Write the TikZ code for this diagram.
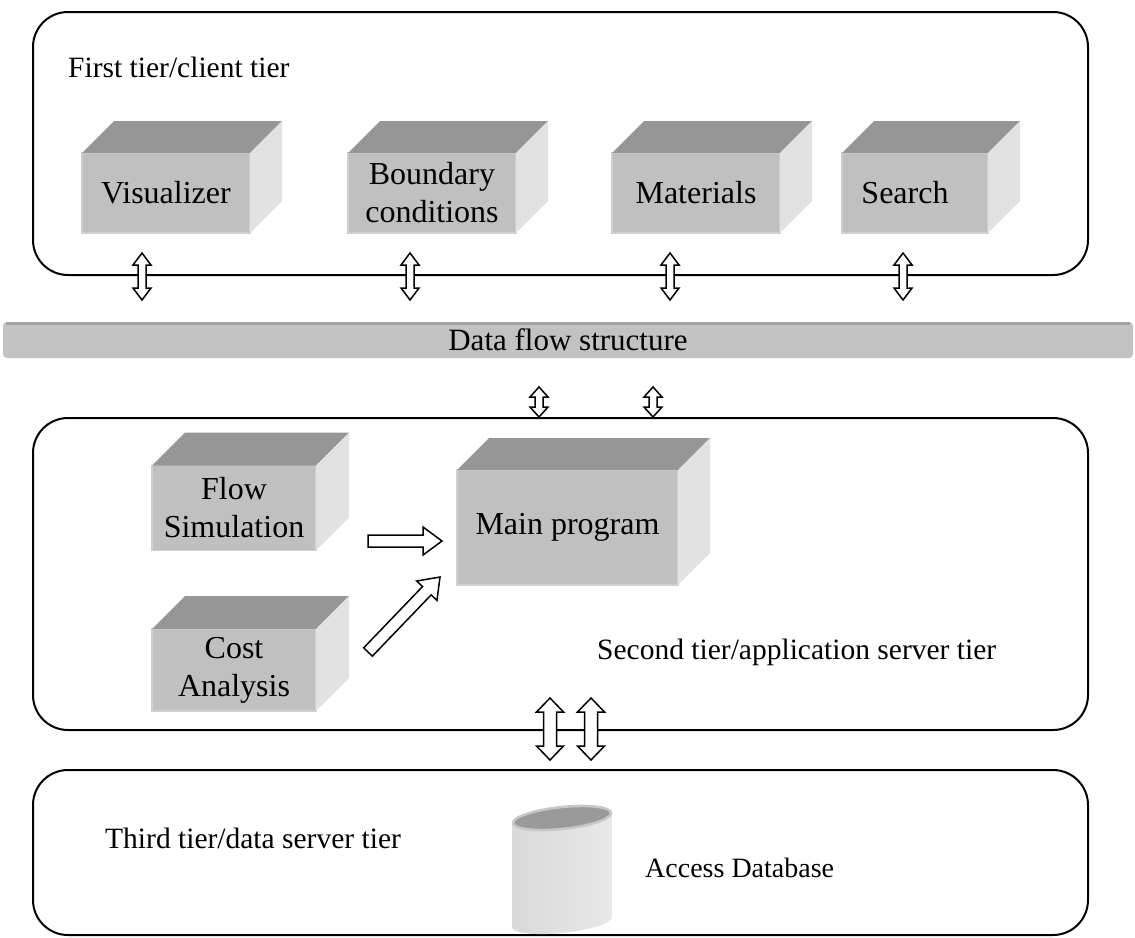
\documentclass[tikz,border=0pt]{standalone}
\usepackage{fontspec}
\setmainfont{Liberation Serif}
\usetikzlibrary{calc}

\definecolor{cubeFront}{HTML}{C0C0C0}
\definecolor{cubeTop}{HTML}{969696}
\definecolor{cubeSide}{HTML}{E2E2E2}
\definecolor{cubeEdge}{HTML}{CFCFCF}
\definecolor{barFill}{HTML}{C2C2C2}
\definecolor{barEdge}{HTML}{A2A2A2}
\definecolor{dbTop}{HTML}{9A9A9A}
\definecolor{dbRim}{HTML}{C8C8C8}

% top and right faces of a box whose front face is node #1, depth #2
\newcommand\boxfaces[2]{%
  \fill[cubeTop] (#1.north west) -- ++(#2,-#2) -- ($(#1.north east)+(#2,-#2)$) -- (#1.north east) -- cycle;
  \fill[cubeSide] (#1.north east) -- ++(#2,-#2) -- ($(#1.south east)+(#2,-#2)$) -- (#1.south east) -- cycle;}

% outlined double-headed block arrow from #1 to #2
% #3 shaft half width, #4 head half width, #5 head length
\newcommand\dblarrow[5]{%
  \coordinate (hba) at ($(#1)!#5!(#2)$);
  \coordinate (hbb) at ($(#2)!#5!(#1)$);
  \draw[blockarrow] (#1) -- ($(hba)!#4!90:(#2)$) -- ($(hba)!#3!90:(#2)$)
    -- ($(hbb)!#3!90:(#2)$) -- ($(hbb)!#4!90:(#2)$) -- (#2)
    -- ($(hbb)!#4!-90:(#2)$) -- ($(hbb)!#3!-90:(#2)$)
    -- ($(hba)!#3!-90:(#2)$) -- ($(hba)!#4!-90:(#2)$) -- cycle;}

% outlined single-headed block arrow from tail #1 to tip #2
\newcommand\sglarrow[5]{%
  \coordinate (hbb) at ($(#2)!#5!(#1)$);
  \draw[blockarrow] ($(#1)!#3!90:(#2)$) -- ($(hbb)!#3!90:(#2)$) -- ($(hbb)!#4!90:(#2)$)
    -- (#2) -- ($(hbb)!#4!-90:(#2)$) -- ($(hbb)!#3!-90:(#2)$) -- ($(#1)!#3!-90:(#2)$) -- cycle;}

\begin{document}
\begin{tikzpicture}[x=1pt,y=-1pt,
  tierbox/.style={draw=black, line width=2pt, rounded corners=35pt, inner sep=0pt, outer sep=0pt},
  cubefront/.style={fill=cubeFront, draw=cubeEdge, line width=1.2pt, inner sep=0pt, outer sep=0pt,
    align=center, font=\fontsize{32}{38}\selectfont},
  tierlabel/.style={anchor=base west, inner sep=0pt, font=\fontsize{29.5}{34}\selectfont},
  blockarrow/.style={draw=black, fill=white, line width=1.5pt, line join=miter},
  dataflow/.style={fill=barFill, rounded corners=4pt, inner sep=0pt, outer sep=0pt,
    minimum width=1130pt, minimum height=36pt, font=\fontsize{31}{34}\selectfont}]
\useasboundingbox (0,0) rectangle (1135,937);

% ---------- tier frames ----------
\node[tierbox, minimum width=1055pt, minimum height=263pt] (tier1) at (560.5,143.5) {};
\node[tierbox, minimum width=1055pt, minimum height=312pt] (tier2) at (560.5,574) {};
\node[tierbox, minimum width=1055pt, minimum height=165pt] (tier3) at (560.5,852.5) {};

\node[tierlabel] (lab1) at (68,77) {First tier/client tier};
\node[tierlabel] (lab2) at (597,659) {Second tier/application server tier};
\node[tierlabel] (lab3) at (105,848) {Third tier/data server tier};

% ---------- client tier modules ----------
\node[cubefront, minimum width=168pt, minimum height=80pt] (vis) at (166,193) {Visualizer};
\boxfaces{vis}{32}
\node[cubefront, minimum width=168pt, minimum height=80pt] (bnd) at (432,193) {Boundary\\conditions};
\boxfaces{bnd}{32}
\node[cubefront, minimum width=168pt, minimum height=80pt] (mat) at (696,193) {Materials};
\boxfaces{mat}{32}
\node[cubefront, minimum width=146pt, minimum height=80pt] (sea) at (915,193) {Search\hspace*{20pt}};
\boxfaces{sea}{32}

% ---------- data flow bar ----------
\node[dataflow] (dfs) at (568,340) {Data flow structure};
\draw[barEdge, line width=3pt] ($(dfs.north west)+(3,1.5)$) -- ($(dfs.north east)+(-3,1.5)$);

% ---------- application tier modules ----------
\node[cubefront, minimum width=164pt, minimum height=85pt] (flow) at (234,508) {Flow\\Simulation};
\boxfaces{flow}{33}
\node[cubefront, minimum width=164pt, minimum height=82pt] (cost) at (234,670) {Cost\\Analysis};
\boxfaces{cost}{33}
\node[cubefront, minimum width=221pt, minimum height=115pt] (main) at (567.5,527.5) {Main program};
\boxfaces{main}{32}

% ---------- database ----------
\begin{scope}[shift={(562,818)}, yslant=0.1]
  \shade[left color=gray!30, middle color=white, right color=gray!18]
    (-50,0) -- (-50,104) arc[start angle=180, end angle=360, x radius=50pt, y radius=11pt] -- (50,0) -- cycle;
  \draw[fill=dbTop, draw=dbRim, line width=2.5pt] (0,0) ellipse [x radius=49pt, y radius=11pt];
\end{scope}
\node[tierlabel, font=\fontsize{28}{34}\selectfont] (db) at (645,877) {Access Database};

% ---------- connectors ----------
\coordinate (c1a) at (142,253); \coordinate (c1b) at (142,300);
\coordinate (c2a) at (410,253); \coordinate (c2b) at (410,300);
\coordinate (c3a) at (670,253); \coordinate (c3b) at (670,300);
\coordinate (c4a) at (903,253); \coordinate (c4b) at (903,300);
\dblarrow{c1a}{c1b}{4pt}{9pt}{12pt}
\dblarrow{c2a}{c2b}{4pt}{9pt}{12pt}
\dblarrow{c3a}{c3b}{4pt}{9pt}{12pt}
\dblarrow{c4a}{c4b}{4pt}{9pt}{12pt}

\coordinate (m1a) at (539,387); \coordinate (m1b) at (539,417);
\coordinate (m2a) at (653,387); \coordinate (m2b) at (653,417);
\dblarrow{m1a}{m1b}{4pt}{9pt}{10pt}
\dblarrow{m2a}{m2b}{4pt}{9pt}{10pt}

\coordinate (d1a) at (550,698); \coordinate (d1b) at (550,760);
\coordinate (d2a) at (591,698); \coordinate (d2b) at (591,760);
\dblarrow{d1a}{d1b}{6.5pt}{13.5pt}{14pt}
\dblarrow{d2a}{d2b}{6.5pt}{13.5pt}{14pt}

\coordinate (fs) at (368,541); \coordinate (fm) at (442,541);
\sglarrow{fs}{fm}{6pt}{14pt}{19pt}
\coordinate (ca) at (368,652); \coordinate (cm) at (440,577);
\sglarrow{ca}{cm}{6pt}{14pt}{19pt}
\end{tikzpicture}
\end{document}
